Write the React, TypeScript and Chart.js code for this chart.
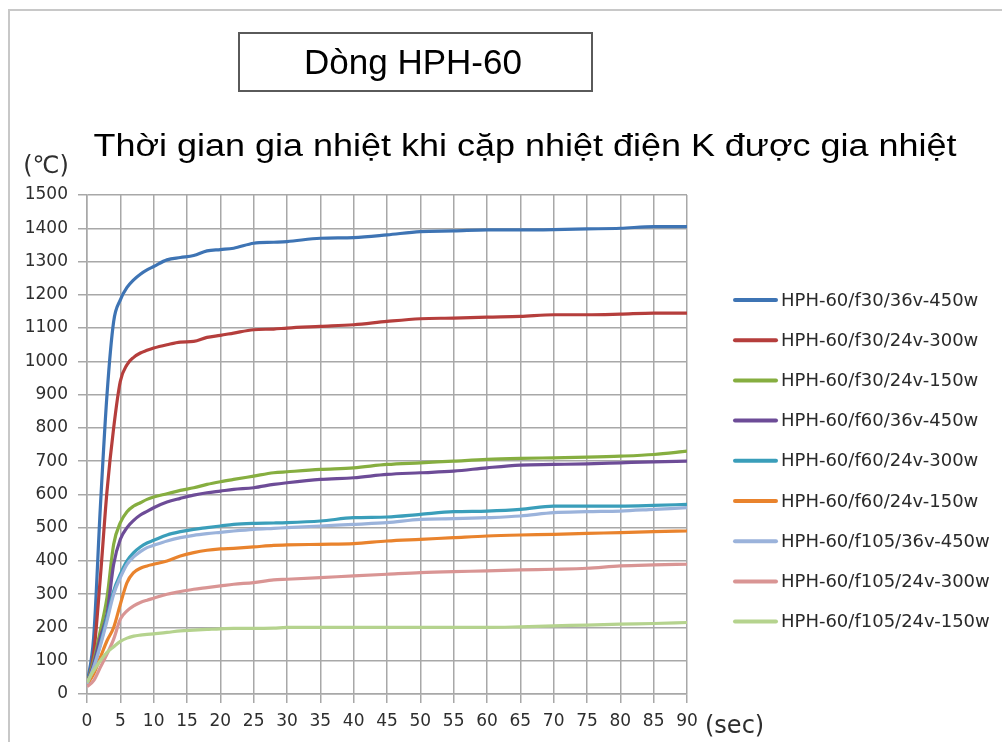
import React, { useEffect, useRef } from "react";
import { Chart, registerables } from "chart.js";

Chart.register(...registerables);

const TITLE = "Dòng HPH-60";
const SUBTITLE = "Thời gian gia nhiệt khi cặp nhiệt điện K được gia nhiệt";
const Y_UNIT = "(℃)";
const X_UNIT = "(sec)";

const times = [0, 1, 2, 3, 4, 5, 6, 7, 8, 9, 10, 12, 14, 16, 18, 20, 22, 25, 28, 30, 35, 40, 45, 50, 55, 60, 65, 70, 75, 80, 85, 90];

const seriesLabels = [
  "HPH-60/f30/36v-450w",
  "HPH-60/f30/24v-300w",
  "HPH-60/f30/24v-150w",
  "HPH-60/f60/36v-450w",
  "HPH-60/f60/24v-300w",
  "HPH-60/f60/24v-150w",
  "HPH-60/f105/36v-450w",
  "HPH-60/f105/24v-300w",
  "HPH-60/f105/24v-150w",
];

const seriesColors = ["#3E74B4", "#B53E3C", "#86AE40", "#6D4C97", "#3A9EBA", "#E9832D", "#9BB3DB", "#D99594", "#B5D38E"];

const f30_36v_450w = [30, 170, 560, 900, 1120, 1185, 1222, 1245, 1262, 1275, 1285, 1305, 1312, 1318, 1332, 1336, 1340, 1355, 1358, 1360, 1370, 1372, 1380, 1390, 1392, 1395, 1395, 1396, 1398, 1400, 1405, 1405];
const f30_24v_300w = [25, 120, 350, 610, 800, 940, 990, 1012, 1025, 1033, 1040, 1050, 1058, 1060, 1072, 1078, 1085, 1095, 1097, 1100, 1105, 1110, 1120, 1128, 1130, 1133, 1135, 1140, 1140, 1142, 1145, 1145];
const f30_24v_150w = [30, 100, 190, 290, 450, 515, 548, 565, 575, 585, 592, 602, 612, 620, 630, 638, 645, 655, 665, 668, 675, 680, 690, 695, 700, 705, 708, 710, 712, 715, 720, 730];
const f60_36v_450w = [30, 90, 170, 240, 390, 465, 500, 522, 538, 549, 560, 577, 588, 598, 605, 610, 615, 620, 630, 635, 645, 650, 660, 665, 670, 680, 688, 690, 692, 695, 698, 700];
const f60_24v_300w = [30, 80, 150, 230, 310, 360, 400, 425, 442, 454, 462, 478, 488, 495, 500, 505, 510, 513, 514, 515, 520, 530, 532, 540, 548, 550, 555, 565, 565, 565, 567, 570];
const f60_24v_150w = [28, 60, 110, 160, 200, 270, 335, 365, 378, 385, 390, 400, 415, 425, 432, 436, 438, 442, 447, 448, 450, 452, 460, 465, 470, 475, 478, 480, 483, 485, 488, 490];
const f105_36v_450w = [30, 80, 145, 220, 300, 350, 390, 412, 428, 440, 447, 460, 470, 477, 482, 486, 490, 495, 498, 500, 505, 510, 515, 525, 527, 530, 535, 545, 548, 550, 555, 560];
const f105_24v_300w = [22, 40, 80, 120, 165, 225, 250, 265, 275, 282, 288, 300, 308, 315, 320, 325, 330, 335, 343, 345, 350, 355, 360, 365, 368, 370, 373, 375, 378, 385, 388, 390];
const f105_24v_150w = [35, 70, 100, 125, 142, 158, 168, 174, 177, 179, 181, 185, 190, 192, 194, 196, 197, 197, 198, 200, 200, 200, 200, 200, 200, 200, 202, 205, 207, 210, 212, 215];

const seriesValues = [f30_36v_450w, f30_24v_300w, f30_24v_150w, f60_36v_450w, f60_24v_300w, f60_24v_150w, f105_36v_450w, f105_24v_300w, f105_24v_150w];

const GRID = "#a8a8a8";
const TICK_TEXT = "#2e2e2e";

const decorPlugin = {
  id: "decor",
  beforeDraw(chart: any) {
    const ctx = chart.ctx;
    ctx.save();
    ctx.fillStyle = "#ffffff";
    ctx.fillRect(0, 0, chart.width, chart.height);
    ctx.strokeStyle = "#c8c8c8";
    ctx.lineWidth = 2;
    ctx.beginPath();
    ctx.moveTo(9, chart.height);
    ctx.lineTo(9, 10);
    ctx.lineTo(chart.width, 10);
    ctx.stroke();
    ctx.restore();
  },
  afterDraw(chart: any) {
    const ctx = chart.ctx;
    ctx.save();
    // title box
    ctx.strokeStyle = "#5a5a5a";
    ctx.lineWidth = 2;
    ctx.strokeRect(239, 33, 353, 58);
    ctx.fillStyle = "#000000";
    ctx.textAlign = "center";
    ctx.textBaseline = "alphabetic";
    ctx.font = '35px "Liberation Sans", Arial, sans-serif';
    ctx.fillText(TITLE, 413, 74);
    // subtitle (horizontally stretched like the reference)
    ctx.save();
    ctx.translate(525, 156);
    ctx.scale(1.16, 1);
    ctx.font = '31px "Liberation Sans", Arial, sans-serif';
    ctx.fillText(SUBTITLE, 0, 0);
    ctx.restore();
    // units
    ctx.fillStyle = "#2e2e2e";
    ctx.font = '24px "DejaVu Sans", sans-serif';
    ctx.fillText(Y_UNIT, 46, 173);
    ctx.textAlign = "left";
    ctx.fillText(X_UNIT, 705, 733);
    // legend
    const ds = chart.data.datasets;
    ctx.font = '18px "DejaVu Sans", sans-serif';
    ctx.textBaseline = "middle";
    for (let i = 0; i < ds.length; i++) {
      const y = 300 + i * 40.2;
      ctx.strokeStyle = ds[i].borderColor;
      ctx.lineWidth = 4;
      ctx.lineCap = "round";
      ctx.beginPath();
      ctx.moveTo(735, y);
      ctx.lineTo(776, y);
      ctx.stroke();
      ctx.fillStyle = "#2a2a2a";
      ctx.fillText(ds[i].label, 781, y + 1);
    }
    ctx.restore();
  },
};

export default function App() {
  const ref = useRef<HTMLCanvasElement | null>(null);

  useEffect(() => {
    if (!ref.current) return;
    const datasets = seriesLabels.map((label, i) => ({
      label,
      data: times.map((t, j) => ({ x: t, y: seriesValues[i][j] })),
      borderColor: seriesColors[i],
      backgroundColor: seriesColors[i],
      borderWidth: 3.2,
      pointRadius: 0,
      cubicInterpolationMode: "monotone" as const,
      fill: false,
      order: seriesLabels.length - i,
    }));
    const chart = new Chart(ref.current, {
      type: "line",
      data: { datasets },
      options: {
        responsive: false,
        animation: false,
        devicePixelRatio: 1,
        layout: { padding: { left: 0, top: 195, right: 315, bottom: 0 } },
        plugins: { legend: { display: false }, tooltip: { enabled: false }, title: { display: false } },
        scales: {
          x: {
            type: "linear",
            min: 0,
            max: 90,
            afterFit: (scale: any) => {
              scale.height = 48;
            },
            ticks: {
              stepSize: 5,
              autoSkip: false,
              maxRotation: 0,
              padding: 8,
              color: TICK_TEXT,
              font: { family: '"DejaVu Sans", sans-serif', size: 17 },
              callback: (v: any) => String(v),
            },
            grid: { color: GRID, lineWidth: 1.5, tickLength: 9, drawTicks: true },
            border: { display: true, color: GRID, width: 1.5 },
          },
          y: {
            type: "linear",
            min: 0,
            max: 1500,
            afterFit: (scale: any) => {
              scale.width = 87;
            },
            ticks: {
              stepSize: 100,
              autoSkip: false,
              padding: 10,
              color: TICK_TEXT,
              font: { family: '"DejaVu Sans", sans-serif', size: 17 },
              callback: (v: any) => String(v),
            },
            grid: { color: GRID, lineWidth: 1.5, tickLength: 9, drawTicks: true },
            border: { display: true, color: GRID, width: 1.5 },
          },
        },
      },
      plugins: [decorPlugin],
    });
    return () => chart.destroy();
  }, []);

  return (
    <div style={{ position: "fixed", left: 0, top: 0, width: 1002, height: 742, background: "#fff" }}>
      <canvas ref={ref} width={1002} height={742} style={{ display: "block", width: 1002, height: 742 }} />
    </div>
  );
}
